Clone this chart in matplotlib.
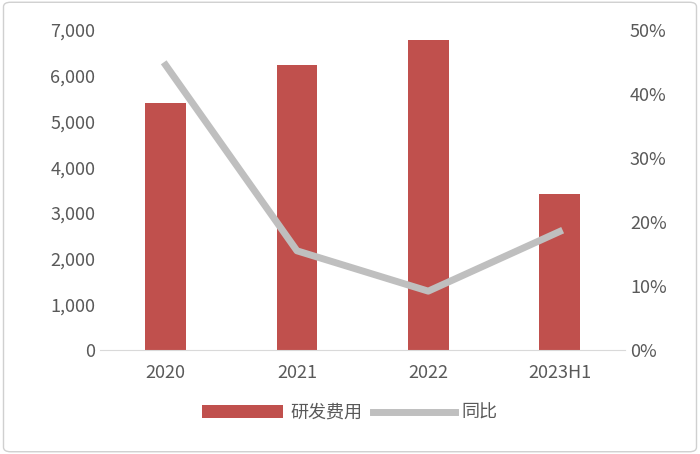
import matplotlib
matplotlib.use("Agg")
import matplotlib.pyplot as plt
from matplotlib.ticker import FuncFormatter
from matplotlib.patches import FancyBboxPatch

plt.rcParams['font.family'] = ['Noto Sans CJK SC', 'DejaVu Sans']

categories = ["2020", "2021", "2022", "2023H1"]
rd_expense = [5400, 6230, 6780, 3420]
yoy = [0.445, 0.155, 0.092, 0.185]

fig = plt.figure(figsize=(7, 4.54), dpi=100)
fig.patches.append(FancyBboxPatch((0.005, 0.005), 0.99, 0.99, boxstyle="round,pad=0,rounding_size=0.01",
                                  transform=fig.transFigure, fill=False, edgecolor="#D0D0D0", lw=1))
ax = fig.add_axes([0.143, 0.229, 0.75, 0.705])
x = range(len(categories))
b = ax.bar(x, rd_expense, width=0.31, color="#C0504D", label="研发费用")
ax.set_ylim(0, 7000)
ax.set_yticks(range(0, 7001, 1000))
ax.yaxis.set_major_formatter(FuncFormatter(lambda v, p: f"{int(v):,}"))
ax.set_xticks(list(x))
ax.set_xticklabels(categories)
ax.set_xlim(-0.5, 3.5)
for s in ["top", "right", "left"]:
    ax.spines[s].set_visible(False)
ax.spines["bottom"].set_color("#D9D9D9")
ax.tick_params(length=0, labelsize=13, colors="#595959")
ax.tick_params(axis='x', pad=10)

ax2 = ax.twinx()
l, = ax2.plot(x, yoy, color="#BFBFBF", lw=5, label="同比")
ax2.set_ylim(0, 0.5)
ax2.set_yticks([i / 10 for i in range(6)])
ax2.yaxis.set_major_formatter(FuncFormatter(lambda v, p: f"{v*100:.0f}%"))
for s in ax2.spines.values():
    s.set_visible(False)
ax2.tick_params(length=0, labelsize=13, colors="#595959")

fig.legend([b, l], ["研发费用", "同比"], loc="lower center", bbox_to_anchor=(0.5, 0.035),
           ncol=2, frameon=False, fontsize=13, labelcolor="#595959", handlelength=4.5,
           handletextpad=0.4, columnspacing=0.6)
fig.savefig("out.png", dpi=100)
